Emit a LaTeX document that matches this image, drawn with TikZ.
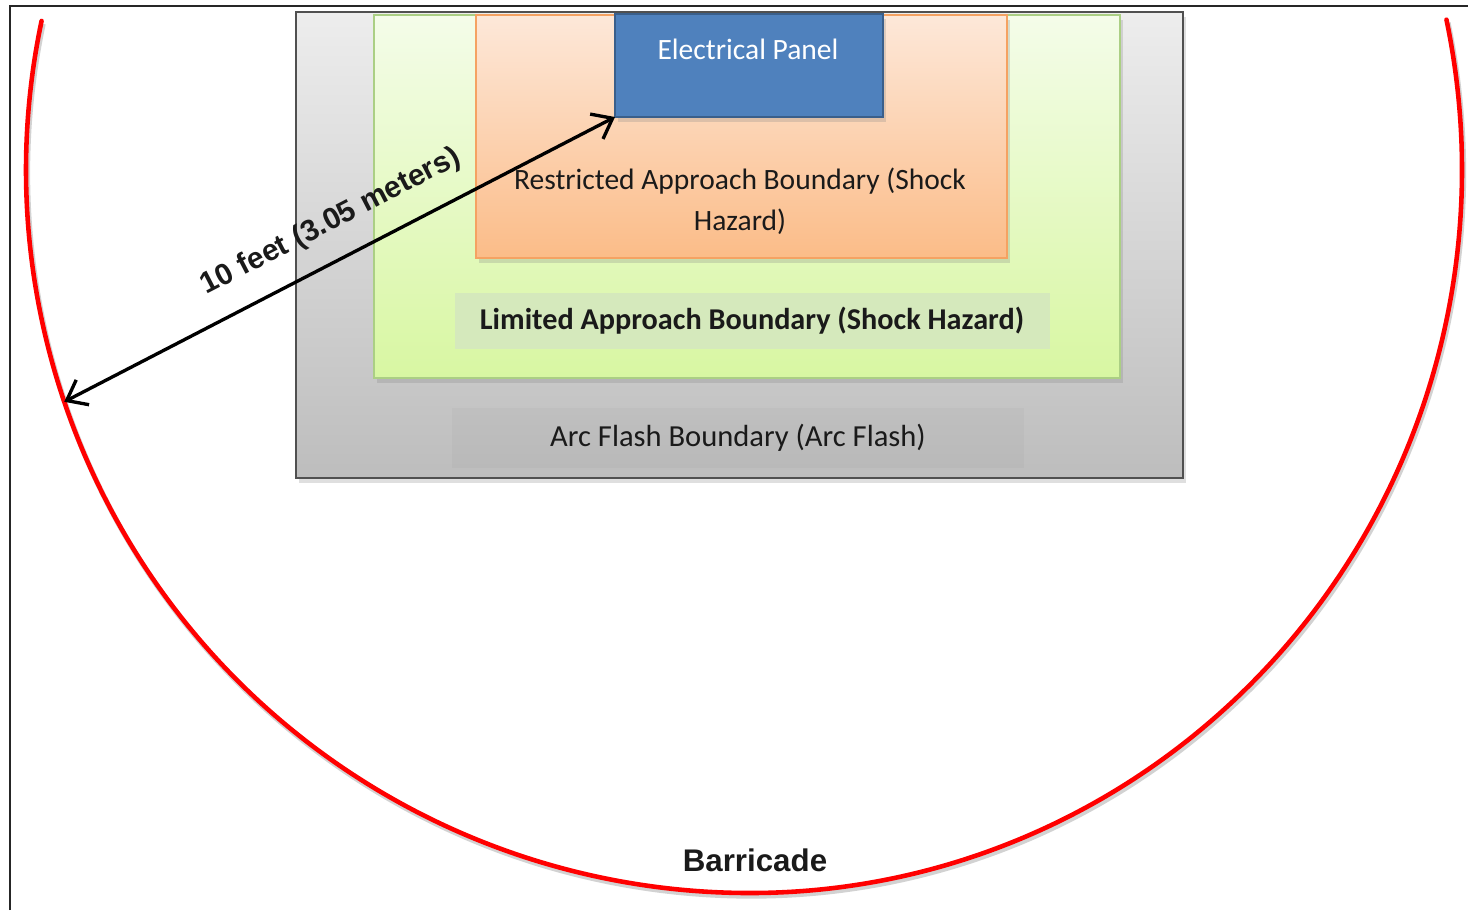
\documentclass[tikz,border=0pt]{standalone}
\usepackage{fontspec}
\setmainfont{Carlito}
\newfontfamily\arialfont{Liberation Sans}
\usetikzlibrary{arrows.meta,shadows}

\definecolor{afTop}{HTML}{EDEDED}
\definecolor{afBot}{HTML}{BDBDBD}
\definecolor{afLine}{HTML}{505050}
\definecolor{laTop}{HTML}{F4FCE9}
\definecolor{laBot}{HTML}{D8F7A2}
\definecolor{laLine}{HTML}{ABCF84}
\definecolor{laFill}{HTML}{D5E9BC}
\definecolor{raTop}{HTML}{FDE8D9}
\definecolor{raBot}{HTML}{FBBC88}
\definecolor{raLine}{HTML}{F5A262}
\definecolor{panelFill}{HTML}{4F81BD}
\definecolor{panelLine}{HTML}{3A5F8B}
\definecolor{txtDark}{HTML}{1A1A1A}
\definecolor{barRed}{HTML}{FF0000}

% barricade outline: left and right halves share the bottom point
\newcommand{\barrierpath}{(750,170) ++(191.9:724 and 723)
  arc[start angle=191.9, end angle=90, x radius=724, y radius=723]
  arc[start angle=90, end angle=-12, x radius=712, y radius=723]}

\begin{document}
\begin{tikzpicture}[x=0.1mm,y=-0.1mm,
  zone/.style={draw, line width=0.55pt, anchor=north west, inner sep=0pt, outer sep=0pt,
    drop shadow={shadow xshift=0.3mm, shadow yshift=-0.5mm, opacity=0.25}},
  caption/.style={font=\fontsize{8.4}{11.7}\selectfont, text=txtDark, inner sep=0pt, outer sep=0pt, align=center},
  labelbox/.style={caption, draw=none, inner sep=0pt},
  dim/.style={{Straight Barb[length=1.8mm,width=2.8mm]}-{Straight Barb[length=1.8mm,width=2.8mm]}, line width=0.95pt},
  barrier/.style={draw=barRed, line width=1.3pt, line cap=round},
  frame/.style={draw=black!85, line width=0.6pt}]

  \fill[white] (0,0) rectangle (1468,910);
  \useasboundingbox (0,0) rectangle (1468,910);
  \draw[frame] (10,910) -- (10,6) -- (1468,6);

  % nested approach boundaries
  \node[zone, draw=afLine, top color=afTop, bottom color=afBot,
    minimum width=88.7mm, minimum height=46.6mm] (arcflash) at (296,12) {};
  \node[zone, draw=laLine, top color=laTop, bottom color=laBot,
    minimum width=74.6mm, minimum height=36.3mm] (limited) at (374,15) {};
  \node[zone, draw=raLine, top color=raTop, bottom color=raBot,
    minimum width=53.1mm, minimum height=24.3mm] (restricted) at (476,15) {};
  \node[zone, draw=panelLine, fill=panelFill, line width=0.8pt,
    minimum width=26.8mm, minimum height=10.3mm] (panel) at (615,14) {};

  % texts
  \node[caption, text=white] (paneltxt) at (748,49) {Electrical Panel};
  \node[caption] (restrictedtxt) at (740,201)
    {Restricted Approach Boundary (Shock\\Hazard)};
  \node[labelbox, fill=laFill, minimum width=59.5mm, minimum height=5.6mm,
    font=\fontsize{8.6}{10}\selectfont\bfseries] (limitedtxt) at (752,321)
    {Limited Approach Boundary (Shock Hazard)};
  \node[labelbox, fill=black, fill opacity=0.025, text opacity=1, minimum width=57.2mm,
    minimum height=6mm, font=\fontsize{8.7}{10}\selectfont] (arcflashtxt) at (738,438)
    {Arc Flash Boundary (Arc Flash)};

  % barricade line
  \draw[draw=gray!35, line width=1.5pt, shift={(1.5,3)}] \barrierpath;
  \draw[barrier] \barrierpath;
  \path (750,170) ++(161.3:724 and 723) coordinate (barrier);
  \node[font=\arialfont\bfseries\fontsize{8.9}{10}\selectfont, text=txtDark, inner sep=0pt]
    (barricade) at (755,860) {Barricade};

  % 10 ft dimension
  \draw[dim] (barrier) -- (panel.south west)
    node[pos=0.515, sloped, above=2.8pt, font=\arialfont\bfseries\fontsize{8.5}{10}\selectfont,
      text=txtDark] (dimtxt) {10 feet (3.05 meters)};
\end{tikzpicture}
\end{document}
